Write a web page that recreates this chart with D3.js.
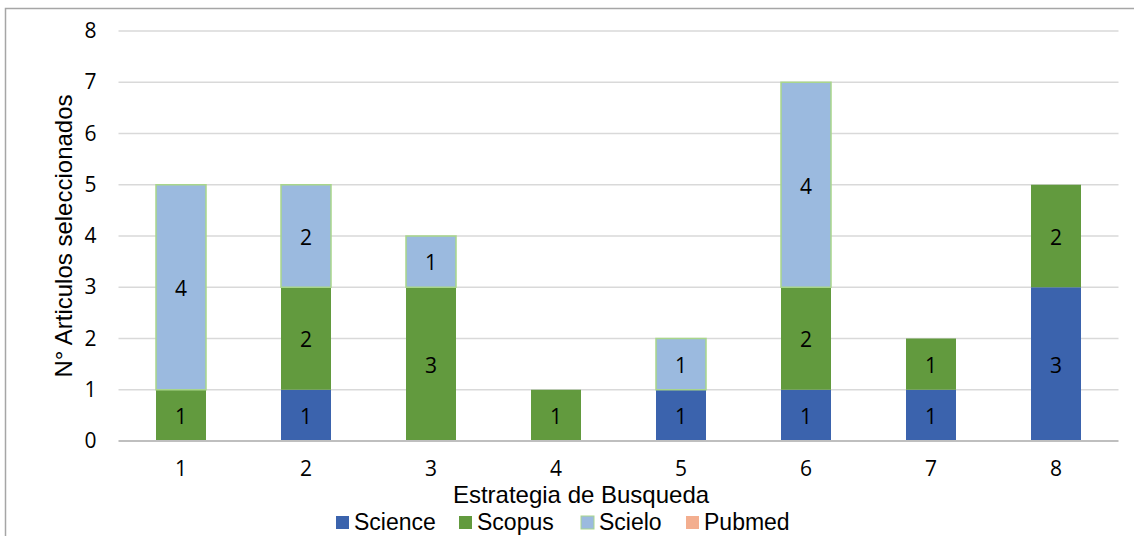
<!DOCTYPE html>
<html>
<head>
<meta charset="utf-8">
<script src="https://cdn.jsdelivr.net/npm/d3@7"></script>
<style>
  html, body { margin: 0; padding: 0; background: #fff; }
  svg { display: block; }
</style>
</head>
<body>
<svg id="chart" width="1134" height="536"></svg>
<script>
// Search strategies on the x axis
const categories = ["1", "2", "3", "4", "5", "6", "7", "8"];
// Selected articles per database
const science = [0, 1, 0, 0, 1, 1, 1, 3];
const scopus  = [1, 2, 3, 1, 0, 2, 1, 2];
const scielo  = [4, 2, 1, 0, 1, 4, 0, 0];
const pubmed  = [0, 0, 0, 0, 0, 0, 0, 0];
const seriesNames = ["Science", "Scopus", "Scielo", "Pubmed"];
const yTicks = [0, 1, 2, 3, 4, 5, 6, 7, 8];

const colors = {
  Science: "#3b63ad",
  Scopus: "#629a3e",
  Scielo: "#9bbadf",
  Pubmed: "#f3ae8f"
};
const strokes = { Scielo: "#a9d68b" };

const svg = d3.select("#chart");
const W = 1134, H = 536;
const m = { left: 118.5, right: 1118.5, top: 31, bottom: 441 };
const numFont = "'Open Sans', 'Noto Sans', sans-serif";
const txtFont = "'Liberation Sans', Arial, sans-serif";

// outer chart frame
svg.append("rect")
  .attr("x", 5.5).attr("y", 8.5)
  .attr("width", W + 10).attr("height", H + 10)
  .attr("fill", "none").attr("stroke", "#a6a6a6").attr("stroke-width", 1.5);

const x = d3.scaleBand().domain(categories).range([m.left, m.right]).paddingInner(0.6).paddingOuter(0.3);
const y = d3.scaleLinear().domain([0, 8]).range([m.bottom, m.top]);

// gridlines
svg.append("g").selectAll("line").data(yTicks.filter(d => d > 0)).join("line")
  .attr("x1", m.left).attr("x2", m.right)
  .attr("y1", d => y(d)).attr("y2", d => y(d))
  .attr("stroke", "#d9d9d9").attr("stroke-width", 1.3);

// y tick labels
const yAxis = d3.axisLeft(y).tickValues(yTicks).tickSize(0).tickPadding(22);
const gy = svg.append("g").attr("transform", `translate(${m.left},0)`).call(yAxis);
gy.select(".domain").remove();
gy.selectAll("text")
  .attr("font-family", numFont)
  .attr("font-size", 21).attr("fill", "#000");

// stacked data
const rows = categories.map((c, i) => ({
  cat: c, Science: science[i], Scopus: scopus[i], Scielo: scielo[i], Pubmed: pubmed[i]
}));
const stacked = d3.stack().keys(seriesNames)(rows);

const gBars = svg.append("g");
stacked.forEach(layer => {
  const key = layer.key;
  const g = gBars.append("g");
  g.selectAll("rect").data(layer.filter(d => d[1] - d[0] > 0)).join("rect")
    .attr("x", d => x(d.data.cat))
    .attr("width", x.bandwidth())
    .attr("y", d => y(d[1]))
    .attr("height", d => y(d[0]) - y(d[1]))
    .attr("fill", colors[key])
    .attr("stroke", strokes[key] || "none")
    .attr("stroke-width", strokes[key] ? 1.5 : 0);
  g.selectAll("text").data(layer.filter(d => d[1] - d[0] > 0)).join("text")
    .attr("x", d => x(d.data.cat) + x.bandwidth() / 2)
    .attr("y", d => (y(d[0]) + y(d[1])) / 2)
    .attr("dy", "0.42em")
    .attr("text-anchor", "middle")
    .attr("font-family", numFont)
    .attr("font-size", 21).attr("fill", "#000")
    .text(d => d[1] - d[0]);
});

// baseline axis
svg.append("line")
  .attr("x1", m.left).attr("x2", m.right)
  .attr("y1", y(0)).attr("y2", y(0))
  .attr("stroke", "#bfbfbf").attr("stroke-width", 2);

// x tick labels
const xAxis = d3.axisBottom(x).tickSize(0).tickPadding(20);
const gx = svg.append("g").attr("transform", `translate(0,${y(0)})`).call(xAxis);
gx.select(".domain").remove();
gx.selectAll("text")
  .attr("font-family", numFont)
  .attr("font-size", 21).attr("fill", "#000");

// axis titles
svg.append("text")
  .attr("x", 581).attr("y", 503)
  .attr("text-anchor", "middle")
  .attr("font-family", txtFont)
  .attr("font-size", 24).attr("fill", "#000")
  .text("Estrategia de Busqueda");

svg.append("text")
  .attr("transform", `translate(72,236) rotate(-90)`)
  .attr("text-anchor", "middle")
  .attr("font-family", txtFont)
  .attr("font-size", 24).attr("fill", "#000")
  .text("N° Articulos seleccionados");

// legend
const legendX = [336, 459, 581, 686];
const lg = svg.append("g");
seriesNames.forEach((name, i) => {
  lg.append("rect")
    .attr("x", legendX[i]).attr("y", 516)
    .attr("width", 13).attr("height", 13)
    .attr("fill", colors[name])
    .attr("stroke", strokes[name] || "none")
    .attr("stroke-width", strokes[name] ? 1 : 0);
  lg.append("text")
    .attr("x", legendX[i] + 18).attr("y", 530)
    .attr("font-family", txtFont)
    .attr("font-size", 23).attr("fill", "#000")
    .text(name);
});
</script>
</body>
</html>
